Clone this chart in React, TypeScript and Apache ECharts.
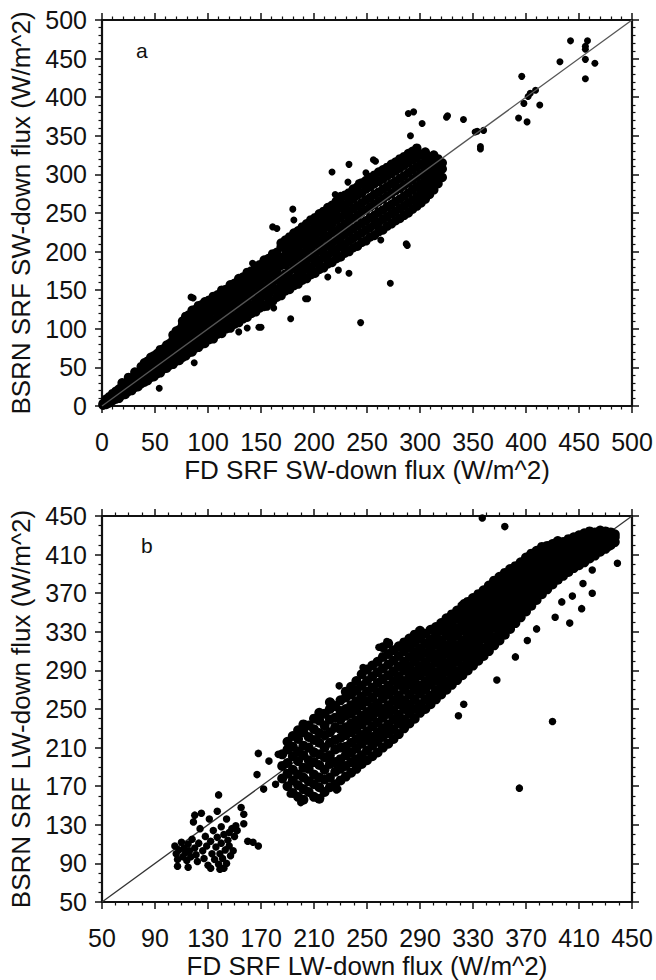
import React, { useEffect, useRef } from "react";
import * as echarts from "echarts";

// ---------- Panel a: SW-down flux (W/m^2) ----------
const swAxisMin = 0;
const swAxisMax = 500;
const swInterval = 50;
const swXName = "FD SRF SW-down flux (W/m^2)";
const swYName = "BSRN SRF SW-down flux (W/m^2)";

// [FD value, BSRN values at that FD value]
const swCols: [number, number[]][] = [
  [1, [1, 3]], [4, [2, 6, 9]], [7, [4, 8, 12]], [10, [7, 11, 16]], [13, [9, 14, 19]],
  [16, [10, 17, 22]], [19, [14, 19, 26, 30]], [22, [15, 23, 29]], [25, [19, 25, 33, 37]],
  [28, [20, 29, 35]], [31, [24, 31, 40, 44]], [34, [25, 35, 41]], [37, [29, 36, 46, 51]],
  [40, [31, 40, 47, 56]], [43, [33, 42, 52, 58]], [46, [37, 45, 53, 63]], [49, [38, 49, 57, 65]],
  [52, [42, 50, 61, 68]], [55, [43, 55, 62, 73]], [58, [48, 56, 67, 74]], [61, [49, 60, 68, 79]],
  [64, [53, 61, 73, 81]], [67, [54, 66, 74, 86, 92]], [70, [58, 67, 79, 88, 97]],
  [73, [59, 72, 80, 92, 99]], [76, [63, 72, 85, 94, 105, 110]], [79, [65, 77, 86, 99, 107, 116]],
  [82, [69, 78, 91, 100, 112, 118]], [85, [70, 83, 92, 105, 113, 124]], [88, [75, 84, 97, 106, 118, 125]],
  [91, [76, 89, 98, 110, 119, 130]], [94, [80, 89, 102, 111, 124, 131]], [97, [81, 94, 103, 116, 125, 135]],
  [101, [86, 95, 108, 117, 130, 137]], [105, [87, 101, 110, 123, 131, 142]], [109, [93, 102, 115, 124, 137, 144]],
  [113, [94, 107, 117, 130, 138, 150]], [117, [100, 109, 122, 131, 144, 151]], [121, [101, 114, 124, 137, 145, 157]],
  [125, [106, 116, 129, 138, 151, 159]], [129, [108, 121, 131, 144, 153, 165]], [133, [113, 123, 136, 146, 159, 167]],
  [137, [115, 128, 138, 151, 160, 173]], [141, [120, 130, 143, 153, 166, 175]], [145, [122, 135, 145, 159, 168, 181]],
  [149, [127, 137, 151, 160, 174, 183]], [153, [129, 143, 152, 166, 176, 189]], [157, [134, 144, 158, 168, 182, 191]],
  [161, [136, 150, 160, 174, 184, 197]], [165, [141, 151, 165, 176, 190, 199]], [169, [143, 157, 167, 182, 192, 206, 211]],
  [173, [149, 158, 171, 183, 195, 204, 215]], [177, [151, 164, 175, 188, 197, 209, 219]], [181, [156, 165, 179, 190, 202, 212, 224]],
  [185, [158, 171, 182, 195, 205, 217, 227]], [189, [163, 173, 186, 197, 210, 220, 232]], [193, [165, 179, 189, 202, 213, 225, 236]],
  [197, [170, 180, 193, 205, 217, 228, 241]], [201, [172, 186, 197, 210, 221, 234, 244]], [205, [177, 188, 201, 212, 226, 236, 249]],
  [209, [179, 193, 204, 218, 229, 241, 252]], [213, [184, 195, 208, 220, 233, 244, 257]], [217, [186, 200, 211, 225, 236, 249, 260]],
  [221, [191, 202, 215, 227, 241, 252, 265]], [225, [193, 207, 218, 232, 244, 257, 268]], [229, [198, 209, 223, 235, 248, 260, 273]],
  [233, [200, 214, 226, 240, 252, 265, 276]], [237, [205, 217, 230, 243, 256, 268, 281]], [241, [207, 221, 233, 247, 259, 273, 284]],
  [245, [212, 224, 237, 251, 263, 276, 289]], [249, [214, 228, 240, 254, 267, 281, 292]], [253, [219, 231, 244, 258, 270, 284, 296]],
  [257, [221, 235, 247, 261, 274, 288, 299]], [261, [226, 238, 251, 265, 277, 291, 303]], [265, [228, 242, 254, 268, 281, 294, 306]],
  [269, [233, 245, 258, 272, 284, 298, 309]], [273, [236, 249, 261, 275, 288, 301, 313]], [277, [240, 252, 265, 279, 291, 305, 316]],
  [281, [243, 256, 268, 282, 295, 308, 320]], [285, [247, 259, 272, 286, 298, 312, 323]], [289, [250, 263, 276, 289, 302, 315, 327]],
  [293, [255, 267, 280, 293, 306, 319, 330]], [297, [259, 271, 284, 297, 310, 322, 334]], [301, [263, 276, 288, 301, 313, 326]],
  [305, [268, 280, 293, 305, 317, 329]], [309, [274, 286, 298, 310, 322]], [313, [280, 292, 304, 316, 325]],
  [317, [288, 300, 311, 320]], [321, [296, 307, 315]],
];

// scattered points away from the main cloud
const swScatter: [number, number][] = [
  [54, 23], [87, 56], [86, 140], [84, 141], [107, 135], [110, 133], [109, 137], [126, 159], [142, 185], [145, 178],
  [129, 96], [137, 101], [148, 102], [150, 102], [156, 128], [162, 127], [178, 113], [192, 139], [194, 139],
  [213, 167], [223, 176], [233, 172], [244, 108], [272, 159], [263, 215], [287, 210], [288, 208],
  [161, 232], [165, 230], [180, 255], [181, 241], [200, 241], [216, 250], [217, 303], [220, 274], [225, 273],
  [227, 260], [232, 290], [233, 313], [239, 277], [242, 289], [249, 302], [256, 319], [258, 317], [263, 303],
  [289, 379], [294, 381], [291, 350], [302, 366], [307, 276], [313, 302], [319, 312], [325, 374], [326, 376],
  [341, 371], [352, 355], [354, 356], [357, 336], [357, 333], [360, 357],
  [393, 373], [396, 427], [398, 392], [401, 368], [402, 401], [404, 405], [409, 409], [413, 390],
  [432, 446], [442, 473], [456, 424], [456, 449], [456, 462], [456, 466], [458, 473], [465, 444],
];

// ---------- Panel b: LW-down flux (W/m^2) ----------
const lwAxisMin = 50;
const lwAxisMax = 450;
const lwInterval = 40;
const lwXName = "FD SRF LW-down flux (W/m^2)";
const lwYName = "BSRN SRF LW-down flux (W/m^2)";

const lwLowCluster: [number, number][] = [
  [105, 108], [106, 100], [107, 94], [107, 87], [108, 104], [110, 112], [111, 97], [112, 106], [113, 101],
  [114, 93], [115, 110], [115, 86], [116, 103], [117, 97], [118, 115], [119, 133], [120, 106], [120, 140],
  [121, 99], [122, 92], [123, 111], [124, 126], [125, 142], [126, 103], [127, 95], [128, 118], [129, 108],
  [130, 88], [131, 136], [132, 85], [132, 113], [133, 100], [134, 124], [135, 94], [136, 107], [137, 144],
  [137, 117], [138, 161], [138, 89], [139, 100], [139, 84], [140, 128], [140, 111], [141, 95], [142, 85],
  [142, 120], [143, 104], [144, 136], [144, 90], [145, 114], [146, 122], [146, 108], [147, 98], [148, 126],
  [149, 103], [150, 118], [151, 129], [152, 124], [155, 148], [157, 141], [157, 131], [160, 113], [164, 112],
  [168, 108],
];

const lwCols: [number, number[]][] = [
  [186, [178, 191, 203]], [190, [170, 183, 194, 208, 216]], [194, [163, 176, 187, 201, 211, 222]],
  [198, [159, 171, 182, 196, 206, 219, 228]], [202, [156, 167, 179, 189, 202, 212, 226, 234]],
  [206, [164, 175, 188, 197, 210, 221, 233]], [210, [159, 172, 182, 195, 205, 218, 229, 240]],
  [214, [157, 169, 179, 192, 203, 215, 225, 238, 246]], [218, [164, 177, 187, 200, 210, 223, 233, 245]],
  [222, [169, 179, 193, 202, 215, 226, 239, 250, 257]], [226, [172, 185, 195, 208, 218, 231, 241, 253]],
  [230, [176, 188, 198, 210, 220, 229, 239, 248, 259]], [234, [180, 191, 202, 211, 223, 231, 243, 250, 262, 268]],
  [238, [184, 195, 205, 215, 226, 235, 245, 254, 265, 273]], [242, [188, 198, 209, 219, 229, 238, 249, 258, 269, 279]],
  [246, [193, 202, 214, 223, 234, 243, 254, 263, 274, 286]], [250, [197, 207, 218, 227, 238, 247, 258, 268, 279, 291]],
  [254, [201, 212, 221, 232, 242, 252, 262, 272, 284, 295]], [258, [205, 216, 226, 236, 247, 256, 267, 277, 288, 299]],
  [262, [210, 221, 230, 241, 250, 261, 270, 281, 292, 304, 314]], [266, [214, 225, 234, 245, 254, 265, 274, 285, 296, 307, 318]],
  [270, [219, 229, 239, 249, 259, 269, 279, 289, 300, 311]], [274, [224, 235, 244, 255, 264, 275, 284, 294, 305, 315]],
  [278, [230, 239, 250, 259, 270, 279, 290, 299, 310, 319]], [282, [235, 245, 255, 265, 275, 285, 294, 304, 314, 323]],
  [286, [240, 250, 260, 270, 280, 289, 299, 309, 319, 327]], [290, [246, 255, 266, 274, 285, 294, 304, 313, 323, 331]],
  [294, [250, 260, 270, 279, 289, 298, 308, 318, 328]], [298, [255, 264, 275, 284, 293, 303, 313, 322, 332]],
  [302, [260, 269, 279, 288, 298, 307, 317, 326, 335]], [306, [265, 274, 284, 293, 302, 312, 321, 331, 339]],
  [310, [270, 279, 289, 297, 307, 316, 326, 335, 344]], [314, [275, 285, 294, 302, 312, 321, 330, 339, 348]],
  [318, [280, 289, 299, 307, 316, 326, 334, 344, 352]], [322, [285, 294, 304, 312, 321, 331, 339, 348, 357]],
  [326, [290, 299, 308, 317, 326, 335, 344, 353, 361]], [330, [295, 303, 313, 322, 331, 340, 349, 357, 365]],
  [334, [300, 309, 318, 327, 336, 345, 353, 361, 369]], [338, [305, 313, 323, 332, 341, 349, 358, 366, 373]],
  [342, [310, 319, 328, 337, 346, 354, 362, 370, 378]], [346, [316, 324, 334, 342, 351, 359, 367, 375, 383]],
  [350, [321, 330, 339, 347, 356, 364, 372, 380, 387]], [354, [327, 336, 344, 353, 361, 369, 377, 384, 391]],
  [358, [333, 341, 350, 358, 366, 374, 382, 389, 395]], [362, [339, 347, 355, 364, 371, 379, 386, 393, 398]],
  [366, [345, 353, 361, 369, 377, 384, 391, 397, 402]], [370, [351, 359, 367, 375, 382, 389, 396, 401, 407]],
  [374, [357, 365, 372, 380, 387, 394, 400, 406, 411]], [378, [363, 371, 378, 385, 392, 399, 405, 410, 414]],
  [382, [369, 376, 384, 390, 397, 404, 409, 414, 418]], [386, [374, 382, 388, 395, 402, 408, 413, 419]],
  [390, [379, 386, 393, 400, 406, 411, 417, 421]], [394, [384, 391, 397, 404, 410, 415, 420, 424]],
  [398, [388, 395, 401, 408, 413, 418, 423]], [402, [392, 398, 405, 411, 416, 421, 426]],
  [406, [396, 402, 408, 414, 419, 424, 428]], [410, [399, 405, 411, 417, 422, 427, 430]],
  [414, [402, 409, 414, 420, 425, 429, 432]], [418, [406, 412, 418, 423, 427, 431, 434]],
  [422, [409, 415, 421, 425, 429, 433]], [426, [413, 419, 424, 428, 432, 435]],
  [430, [416, 422, 427, 431, 434]], [434, [420, 425, 429, 433]], [437, [423, 428, 431]],
];

const lwScatter: [number, number][] = [
  [167, 182], [168, 204], [172, 167], [176, 196], [181, 172], [183, 203], [190, 215], [192, 162], [200, 153],
  [215, 158], [227, 166], [228, 167], [223, 257], [229, 274], [247, 293], [259, 314], [265, 320], [304, 336],
  [323, 360], [345, 383], [372, 409], [386, 419], [396, 422], [421, 432], [435, 431],
  [285, 241], [290, 249], [319, 243], [323, 255], [348, 280], [362, 304], [371, 321], [378, 333], [392, 345],
  [403, 339], [397, 361], [405, 367], [412, 354], [413, 380], [420, 370], [420, 394], [418, 408], [433, 418],
  [439, 401], [390, 237], [365, 168], [337, 448], [354, 439],
];

const panelLabels = ["a", "b"];

const FONT = "'Liberation Sans', Arial, Helvetica, sans-serif";
const INK = "#111";

function flatten(cols: [number, number[]][]): [number, number][] {
  const out: [number, number][] = [];
  cols.forEach(([x, ys]) => ys.forEach((y) => out.push([x, y])));
  return out;
}

function makeAxes(
  dim: "x" | "y",
  gridIndex: number,
  min: number,
  max: number,
  interval: number,
  minorSplit: number,
  name: string
) {
  const common = {
    type: "value",
    gridIndex,
    min,
    max,
    interval,
    splitLine: { show: false },
    axisLine: { show: true, onZero: false, lineStyle: { color: INK, width: 2.2 } },
    axisTick: { show: true, inside: false, length: 7, lineStyle: { color: INK, width: 1.5 } },
    minorTick: { show: true, splitNumber: minorSplit, length: 3.5, lineStyle: { color: INK, width: 1.2 } },
  };
  const main = {
    ...common,
    position: dim === "x" ? "bottom" : "left",
    axisLabel: {
      show: true,
      color: INK,
      fontFamily: FONT,
      fontSize: 25,
      margin: dim === "x" ? 23 : 15,
      showMinLabel: true,
      showMaxLabel: true,
    },
    name,
    nameLocation: "middle",
    nameGap: dim === "x" ? 51 : 68,
    nameRotate: dim === "x" ? 0 : 90,
    nameTextStyle: { color: INK, fontFamily: FONT, fontSize: 26 },
  };
  const opposite = {
    ...common,
    position: dim === "x" ? "top" : "right",
    axisLabel: { show: false },
  };
  return [main, opposite];
}

function scatterSeries(axisIndex: number, data: [number, number][], size: number) {
  return {
    type: "scatter",
    xAxisIndex: axisIndex,
    yAxisIndex: axisIndex,
    data,
    symbol: "circle",
    symbolSize: size,
    itemStyle: { color: "#000", opacity: 1 },
    emphasis: { disabled: true },
    z: 2,
  };
}

export default function App() {
  const ref = useRef<HTMLDivElement>(null);

  useEffect(() => {
    if (!ref.current) return;
    const chart = echarts.init(ref.current, undefined, { renderer: "svg" });

    const option: any = {
      animation: false,
      backgroundColor: "#fff",
      grid: [
        { left: 101, top: 20, width: 531, height: 386 },
        { left: 101, top: 516, width: 531, height: 387 },
      ],
      xAxis: [
        ...makeAxes("x", 0, swAxisMin, swAxisMax, swInterval, 5, swXName),
        ...makeAxes("x", 1, lwAxisMin, lwAxisMax, lwInterval, 4, lwXName),
      ],
      yAxis: [
        ...makeAxes("y", 0, swAxisMin, swAxisMax, swInterval, 5, swYName),
        ...makeAxes("y", 1, lwAxisMin, lwAxisMax, lwInterval, 4, lwYName),
      ],
      series: [
        scatterSeries(0, flatten(swCols), 9.5),
        scatterSeries(0, swScatter, 7),
        {
          type: "line",
          xAxisIndex: 0,
          yAxisIndex: 0,
          data: [
            [swAxisMin, swAxisMin],
            [swAxisMax, swAxisMax],
          ],
          symbol: "none",
          lineStyle: { color: "#555", width: 1.3 },
          z: 3,
        },
        scatterSeries(2, flatten(lwCols), 10),
        scatterSeries(2, [...lwLowCluster, ...lwScatter], 7.5),
        {
          type: "line",
          xAxisIndex: 2,
          yAxisIndex: 2,
          data: [
            [lwAxisMin, lwAxisMin],
            [lwAxisMax, lwAxisMax],
          ],
          symbol: "none",
          lineStyle: { color: "#333", width: 1.3 },
          z: 1,
        },
      ],
      graphic: [
        {
          type: "text",
          left: 136,
          top: 40,
          style: { text: panelLabels[0], fontFamily: FONT, fontSize: 21, fill: INK },
        },
        {
          type: "text",
          left: 141,
          top: 535,
          style: { text: panelLabels[1], fontFamily: FONT, fontSize: 21, fill: INK },
        },
      ],
    };

    chart.setOption(option);
    return () => chart.dispose();
  }, []);

  return (
    <div
      ref={ref}
      style={{ position: "absolute", left: 0, top: 0, width: 656, height: 980 }}
    />
  );
}
